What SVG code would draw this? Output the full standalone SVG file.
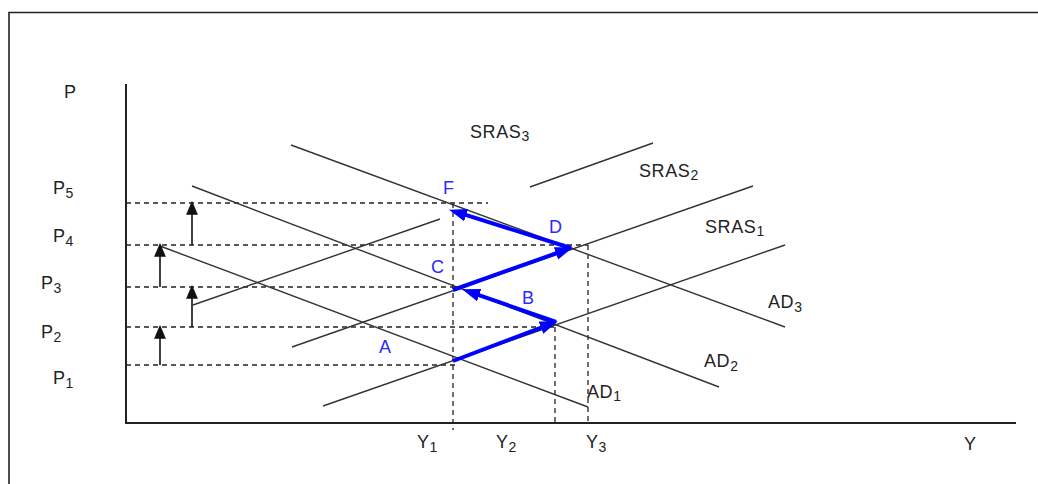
<svg xmlns="http://www.w3.org/2000/svg" width="1038" height="484" viewBox="0 0 1038 484">
<style>
.t{font-family:"Liberation Sans",Arial,sans-serif;font-size:18px;letter-spacing:0.6px;fill:#222}
.s{font-size:14px;letter-spacing:0}
.b{font-family:"Liberation Sans",Arial,sans-serif;font-size:18px;fill:#2a2aff}
.ln{stroke:#333;stroke-width:1.4;fill:none}
.ax{stroke:#222;stroke-width:2;fill:none}
.d{stroke:#222;stroke-width:1.3;stroke-dasharray:5 4;fill:none}
.up{stroke:#111;stroke-width:1.6;fill:none}
.bl{stroke:#0000ff;stroke-width:4;fill:none}
</style>
<defs>
<marker id="ah" markerUnits="userSpaceOnUse" markerWidth="14" markerHeight="12" refX="11" refY="5.5" orient="auto" viewBox="0 0 13 11">
<path d="M0,0 L13,5.5 L0,11 z" fill="#111"/>
</marker>
<marker id="bh" markerUnits="userSpaceOnUse" markerWidth="18" markerHeight="14" refX="8" refY="6.5" orient="auto" viewBox="0 0 18 13">
<path d="M0,0 L18,6.5 L0,13 z" fill="#0000ff"/>
</marker>
</defs>
<rect width="1038" height="484" fill="#fff"/>
<path d="M9,484 V12.5 H1038" stroke="#222" stroke-width="1.6" fill="none"/>
<g id="axes">
<path class="ax" d="M126,84 V423 H1016"/>
</g>
<g id="guides">
<path class="d" d="M126,203 H488 M126,245 H588 M126,287 H455 M126,327 H555 M126,365 H455"/>
<path class="d" d="M453,203 V430 M555,327 V426 M588,245 V424"/>
</g>
<g id="curves">
<path id="AD1" class="ln" d="M160,246 L588,407"/>
<path id="AD2" class="ln" d="M192,186 L719,387"/>
<path id="AD3" class="ln" d="M291,145 L785,327"/>
<path id="SRAS1" class="ln" d="M323,406 L785,245"/>
<path id="SRAS2" class="ln" d="M292,347 L753,186"/>
<path id="SRAS3" class="ln" d="M193,305 L440,219 M530,187 L653,143"/>
</g>
<g id="connectors">
<path class="up" d="M160,365 V327" marker-end="url(#ah)"/>
<path class="up" d="M192,327 V287" marker-end="url(#ah)"/>
<path class="up" d="M160,287 V245" marker-end="url(#ah)"/>
<path class="up" d="M192,245 V203" marker-end="url(#ah)"/>
<path class="bl" d="M453,361 L548.5,324.8" marker-end="url(#bh)"/>
<path class="bl" d="M556,322 L471.6,292.6" marker-end="url(#bh)"/>
<path class="bl" d="M453,290 L563.5,250.7" marker-end="url(#bh)"/>
<path class="bl" d="M571,248 L458.5,212.7" marker-end="url(#bh)"/>
</g>
<g id="labels">
<text class="t" x="64" y="98">P</text>
<text class="t" x="53" y="194">P<tspan class="s" dy="4">5</tspan></text>
<text class="t" x="53" y="242">P<tspan class="s" dy="4">4</tspan></text>
<text class="t" x="41" y="289">P<tspan class="s" dy="4">3</tspan></text>
<text class="t" x="41" y="338">P<tspan class="s" dy="4">2</tspan></text>
<text class="t" x="53" y="384">P<tspan class="s" dy="4">1</tspan></text>
<text class="t" x="417" y="448">Y<tspan class="s" dy="4">1</tspan></text>
<text class="t" x="496" y="448">Y<tspan class="s" dy="4">2</tspan></text>
<text class="t" x="586" y="448">Y<tspan class="s" dy="4">3</tspan></text>
<text class="t" x="964" y="450">Y</text>
<text class="t" x="470" y="138">SRAS<tspan class="s" dy="3">3</tspan></text>
<text class="t" x="639" y="177">SRAS<tspan class="s" dy="3">2</tspan></text>
<text class="t" x="705" y="233">SRAS<tspan class="s" dy="3">1</tspan></text>
<text class="t" x="768" y="308">AD<tspan class="s" dy="4">3</tspan></text>
<text class="t" x="704" y="367">AD<tspan class="s" dy="4">2</tspan></text>
<text class="t" x="587" y="398">AD<tspan class="s" dy="3">1</tspan></text>
<text class="b" x="443" y="194">F</text>
<text class="b" x="549" y="233">D</text>
<text class="b" x="431" y="273">C</text>
<text class="b" x="522" y="304">B</text>
<text class="b" x="379" y="353">A</text>
</g>
</svg>
